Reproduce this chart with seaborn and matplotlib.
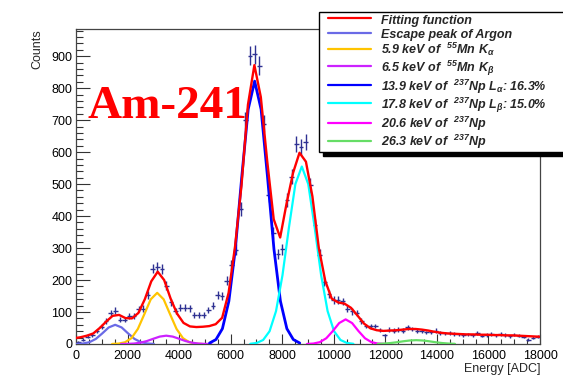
import numpy as np
import matplotlib
matplotlib.use("Agg")
import matplotlib.pyplot as plt
from matplotlib.ticker import MultipleLocator
from matplotlib.lines import Line2D
from matplotlib.legend_handler import HandlerLine2D
import seaborn as sns

# ---------------- data ----------------
bin_width = 180
counts = [6, 14, 22, 28, 40, 54, 72, 96, 104, 76,
          76, 88, 88, 109, 110, 153, 236, 242, 235, 182,
          130, 103, 113, 114, 112, 91, 91, 92, 106, 120,
          153, 151, 198, 246, 294, 422, 700, 902, 906, 870,
          689, 466, 346, 281, 297, 450, 523, 625, 615, 632,
          496, 372, 279, 195, 155, 138, 138, 133, 110, 102,
          96, 72, 56, 55, 56, 44, 27, 45, 42, 45,
          42, 52, 46, 42, 40, 36, 37, 42, 34, 33,
          34, 31, 30, 28, 30, 27, 34, 26, 28, 31,
          27, 31, 28, 24, 29, 26, 22, 14, 20, 22]
bin_centers = np.arange(len(counts)) * bin_width + bin_width / 2

fit_x = [0, 170, 420, 670, 920, 1170, 1420, 1670, 1920, 2170,
         2420, 2670, 2920, 3170, 3420, 3670, 3920, 4170, 4420, 4670,
         4920, 5170, 5420, 5670, 5920, 6170, 6420, 6670, 6920, 7170,
         7420, 7670, 7920, 8170, 8420, 8670, 8920, 9170, 9420, 9670,
         9920, 10170, 10420, 10670, 10920, 11170, 11420, 11670, 11920, 12170,
         12420, 12670, 12920, 13170, 13420, 13670, 13920, 14170, 14420, 14670,
         14920, 15170, 15420, 15670, 15920, 16170, 16420, 16670, 16920, 17170,
         17420, 17670, 17920, 18000]
fit_y = [19, 21, 26, 33, 50, 70, 88, 91, 81, 80,
         97, 140, 196, 226, 200, 142, 95, 66, 55, 53,
         54, 56, 62, 82, 160, 305, 496, 748, 872, 772,
         570, 390, 333, 440, 535, 598, 570, 462, 300, 197,
         142, 130, 126, 113, 89, 64, 49, 43, 41, 42,
         43, 45, 47, 47, 45, 42, 38, 35, 33, 32,
         31, 30, 30, 29, 29, 28, 28, 27, 27, 26,
         25, 24, 23, 23]

esc_x = [20, 270, 520, 770, 1020, 1270, 1520, 1770, 2020, 2270, 2520, 2770, 3020]
esc_y = [0.3, 1.5, 5.6, 15.9, 33.2, 51.8, 60, 51.8, 33.2, 15.9, 5.6, 1.5, 0.3]

mnka_x = [1400, 1650, 1900, 2150, 2400, 2650, 2900, 3150, 3400, 3650, 3900, 4150, 4400, 4650, 4900]
mnka_y = [0.2, 1.2, 5.4, 18.2, 47.2, 93.0, 139.7, 160, 139.7, 93.0, 47.2, 18.2, 5.4, 1.2, 0.2]

mnkb_x = [1750, 2000, 2250, 2500, 2750, 3000, 3250, 3500, 3750, 4000, 4250, 4500, 4750, 5000, 5250]
mnkb_y = [0.1, 0.4, 1.4, 4.1, 9.2, 16.4, 23.2, 26, 23.2, 16.4, 9.2, 4.1, 1.4, 0.4, 0.1]

npla_x = [5180, 5430, 5680, 5930, 6180, 6430, 6680, 6930, 7180, 7430, 7680, 7930, 8180, 8430, 8680]
npla_y = [3, 14, 48, 134, 296, 522, 734, 822, 734, 522, 296, 134, 48, 14, 3]

nplb_x = [6760, 7010, 7260, 7510, 7760, 8010, 8260, 8510, 8760, 9010, 9260, 9510, 9760, 10010, 10260, 10510, 10760]
nplb_y = [0.6, 3.2, 12.6, 40, 103, 215, 364, 500, 555, 500, 364, 215, 103, 40, 12.6, 3.2, 0.6]

np206_x = [8960, 9210, 9460, 9710, 9960, 10210, 10460, 10710, 10960, 11210, 11460, 11710, 11960]
np206_y = [0.2, 1.4, 5.8, 18.0, 40.3, 65.5, 77, 65.5, 40.3, 18.0, 5.8, 1.4, 0.2]

np263_x = [11700, 11950, 12200, 12450, 12700, 12950, 13200, 13450, 13700, 13950, 14200, 14450, 14700]
np263_y = [0.5, 1.4, 3.0, 5.5, 8.5, 11.0, 12, 11.0, 8.5, 5.5, 3.0, 1.4, 0.5]

labels = ["Fitting function",
          "Escape peak of Argon",
          "5.9 keV of  $^{55}$Mn K$_{\\alpha}$",
          "6.5 keV of  $^{55}$Mn K$_{\\beta}$",
          "13.9 keV of  $^{237}$Np L$_{\\alpha}$: 16.3%",
          "17.8 keV of  $^{237}$Np L$_{\\beta}$: 15.0%",
          "20.6 keV of  $^{237}$Np",
          "26.3 keV of  $^{237}$Np"]
colors = ["#ff0000", "#6a6ae6", "#ffc400", "#cc22ff",
          "#0000ff", "#00ffff", "#ff00ff", "#66dd66"]

x_ticks = list(range(0, 18001, 2000))
y_ticks = list(range(0, 901, 100))

# ---------------- styling ----------------
sns.set_theme(style="white")
plt.rcParams["font.family"] = ["Liberation Sans", "DejaVu Sans"]
plt.rcParams["mathtext.default"] = "regular"

W, H = 563, 375
fig = plt.figure(figsize=(W / 100, H / 100), dpi=100)
ax = fig.add_axes([76 / W, 31 / H, 464 / W, 315 / H])

# histogram points with error crosses
ax.errorbar(bin_centers, counts, xerr=bin_width / 2, yerr=np.sqrt(counts),
            fmt="none", ecolor="#2e3192", elinewidth=1.0, capsize=0, zorder=2)

comp = [(esc_x, esc_y), (mnka_x, mnka_y), (mnkb_x, mnkb_y), (npla_x, npla_y),
        (nplb_x, nplb_y), (np206_x, np206_y), (np263_x, np263_y)]
widths = [1.6, 1.6, 1.6, 2.0, 1.6, 1.6, 1.6]
for (cx, cy), c, lw in zip(comp, colors[1:], widths):
    sns.lineplot(x=cx, y=cy, ax=ax, color=c, linewidth=lw, sort=True,
                 estimator=None, legend=False, zorder=3)
sns.lineplot(x=fit_x, y=fit_y, ax=ax, color=colors[0], linewidth=1.7,
             sort=True, estimator=None, legend=False, zorder=4)

ax.set_xlim(0, 18000)
ax.set_ylim(0, 985)
ax.set_xticks(x_ticks)
ax.set_yticks(y_ticks)
ax.xaxis.set_minor_locator(MultipleLocator(500))
ax.yaxis.set_minor_locator(MultipleLocator(20))
ax.tick_params(which="both", direction="in", bottom=True, left=True,
               top=False, right=False, colors="#333333", labelcolor="black")
ax.tick_params(axis="x", which="major", length=7, width=0.8, pad=4, labelsize=9)
ax.tick_params(axis="x", which="minor", length=3.6, width=0.8)
ax.tick_params(axis="y", which="major", length=10, width=0.8, pad=2.5, labelsize=9)
ax.tick_params(axis="y", which="minor", length=5, width=0.8)
for s in ax.spines.values():
    s.set_color("#444444")
    s.set_linewidth(0.9)
ax.grid(False)

ax.set_ylabel("Counts", loc="top", fontsize=9, labelpad=6)
ax.set_xlabel("Energy [ADC]", loc="right", fontsize=9, labelpad=1)

ax.text(465, 706, "Am-241", fontfamily="Liberation Serif", fontweight="bold",
        fontsize=34, color="red", va="baseline", zorder=5)

fs = 9.0
handles = [Line2D([], [], color=c, linewidth=1.6) for c in colors]
leg = ax.legend(handles, labels, loc="upper left",
                bbox_to_anchor=(319 / W, 1 - 149 / H, 0.45, 137 / H),
                bbox_transform=fig.transFigure, mode="expand", borderaxespad=0,
                fancybox=False, frameon=True, framealpha=1,
                shadow={"color": "black", "alpha": 1, "ox": 3, "oy": -3},
                prop={"family": "Liberation Sans", "weight": "bold",
                      "style": "italic", "size": fs},
                numpoints=2,
                handler_map={Line2D: HandlerLine2D(marker_pad=0.67)},
                handlelength=4.78, handletextpad=0.13, handleheight=1.37,
                labelspacing=0.0, borderpad=0.05)
leg.get_frame().set_edgecolor("black")
leg.get_frame().set_linewidth(1.0)
leg.set_zorder(10)

fig.savefig("out.png", dpi=100)
